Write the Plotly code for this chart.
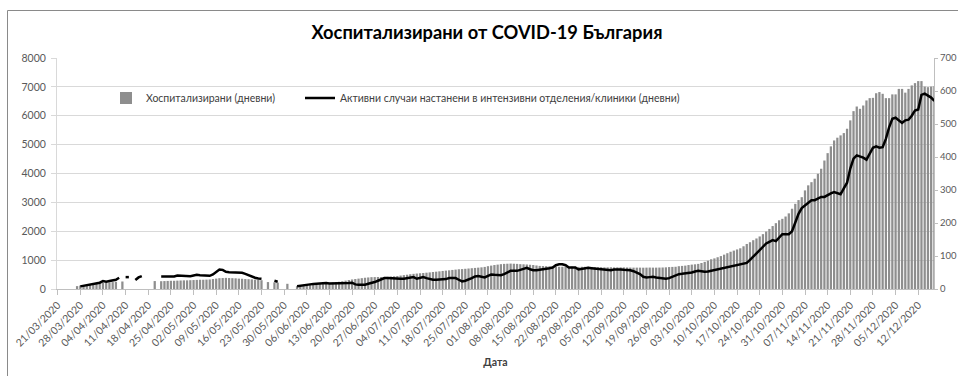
import pandas as pd
import plotly.graph_objects as go

START = "2020-03-21"

# Hospitalized (daily) – left axis; one list per month (March list starts on 21/03)
hosp_mar = [None]*6 + [100, 120, 135, 150, 160]
hosp_apr = [175, 185, 200, 215, 225, 230, 240, 250, None, 260] + [None]*9 + [275, None,
            270, 275, 280, 285, 285, 290, 295, 300, 300]
hosp_may = [305, 310, 315, 320, 320, 325, 330, 345, 360, 375, 380, 385, 380, 375, 370, 360,
            355, 345, 340, 335, 325, 315, 305, None, 240, None, 230, 220, None, None, 180]
hosp_jun = [None, None, 100, 110, 120, 135, 150, 165, 180, 195, 210, 215, 220, 230, 240, 250,
            270, 290, 310, 330, 345, 360, 375, 390, 400, 410, 412, 415, 415, 418]
hosp_jul = [420, 430, 440, 450, 465, 480, 495, 510, 525, 535, 545, 555, 565, 575, 588, 600,
            612, 625, 637, 647, 660, 672, 684, 690, 700, 710, 720, 730, 740, 750, 765]
hosp_aug = [790, 810, 830, 845, 860, 870, 875, 880, 875, 870, 860, 855, 850, 840, 830, 815,
            800, 795, 790, 785, 780, 775, 770, 770, 765, 770, 775, 770, 765, 770, 770]
hosp_sep = [768, 765, 760, 755, 755, 750, 750, 752, 748, 750, 750, 748, 745, 742, 740, 740,
            740, 738, 740, 742, 740, 740, 742, 745, 750, 760, 765, 770, 790, 800]
hosp_oct = [810, 830, 845, 855, 870, 900, 940, 980, 1030, 1060, 1100, 1140, 1190, 1240, 1290,
            1330, 1370, 1410, 1480, 1560, 1620, 1690, 1750, 1820, 1900, 1990, 2080, 2180,
            2280, 2380, 2430]
hosp_nov = [2510, 2620, 2780, 2950, 3080, 3180, 3415, 3590, 3700, 3820, 3990, 4165, 4450,
            4705, 4940, 5145, 5240, 5320, 5400, 5550, 5840, 6160, 6320, 6240, 6355, 6530,
            6610, 6620, 6780, 6820]
hosp_dec = [6760, 6610, 6610, 6740, 6740, 6930, 6930, 6800, 6930, 7050, 7130, 7200, 7200,
            7010, 6990, 7010, 7020]

# Active cases in ICU (daily) – right axis
icu_mar = [None]*7 + [8, 10, 12, 13]
icu_apr = [15, 16, 19, 24, 22, 24, 25, 28, 34, None, 36, 36, None, 27, 35, 39] + [None]*5 + \
          [38, 38, 39, 40, 38, 41, 40, 39, 40]
icu_may = [39, 41, 43, 42, 41, 40, 40, 44, 52, 59, 58, 52, 51, 51, 51, 51, 49, 46, 42, 37,
           34, 32, 31, None, None, None, 25, 22, None, None, None]
icu_jun = [None, None, 8, 10, 12, 13, 14, 15, 16, 17, 18, 18, 17, 17, 16, 16, 17, 18, 18, 19,
           14, 13, 13, 13, 16, 18, 21, 25, 29, 33]
icu_jul = [33, 32, 31, 31, 31, 31, 32, 34, 36, 31, 34, 36, 33, 30, 28, 28, 28, 28, 30, 33,
           33, 33, 28, 23, 25, 28, 33, 38, 39, 37, 35]
icu_aug = [40, 44, 43, 42, 42, 45, 50, 55, 55, 55, 58, 62, 64, 60, 57, 57, 58, 60, 61, 63,
           65, 72, 75, 75, 72, 65, 65, 65, 59, 61, 63]
icu_sep = [64, 63, 62, 61, 60, 58, 57, 57, 59, 60, 59, 58, 58, 57, 54, 50, 45, 37, 35, 36,
           37, 35, 33, 31, 31, 33, 37, 42, 45, 46]
icu_oct = [47, 48, 50, 53, 55, 54, 52, 53, 55, 57, 60, 62, 64, 65, 68, 71, 73, 74, 75, 79,
           88, 98, 107, 118, 128, 138, 143, 148, 145, 155, 166]
icu_nov = [166, 166, 175, 200, 228, 245, 254, 262, 269, 269, 275, 279, 279, 285, 290, 294,
           290, 287, 305, 322, 365, 395, 405, 402, 398, 392, 408, 428, 432, 428]
icu_dec = [430, 455, 490, 516, 519, 512, 503, 511, 513, 525, 541, 544, 588, 592, 585, 580, 570]

hosp = hosp_mar + hosp_apr + hosp_may + hosp_jun + hosp_jul + hosp_aug + hosp_sep + \
       hosp_oct + hosp_nov + hosp_dec
icu = icu_mar + icu_apr + icu_may + icu_jun + icu_jul + icu_aug + icu_sep + icu_oct + \
      icu_nov + icu_dec
dates = pd.date_range(START, periods=len(hosp), freq="D")

label_bars = "Хоспитализирани (дневни)"
label_line = "Активни случаи настанени в интензивни отделения/клиники (дневни)"
title_text = "Хоспитализирани от COVID-19 България"
x_title = "Дата"

FONT = "Lato"
TXT = "#595959"
PL, PR = 57, 934          # plot area left / right in pixels
PW = PR - PL

fig = go.Figure()
fig.add_trace(go.Bar(x=dates, y=hosp, name=label_bars, marker_color="#8e8e8e",
                     marker_line_width=0, legend="legend"))
fig.add_trace(go.Scatter(x=dates, y=icu, name=label_line, yaxis="y2", mode="lines",
                         line=dict(color="#000000", width=2.5), connectgaps=False,
                         legend="legend2"))

x0 = pd.Timestamp(START) - pd.Timedelta(hours=5)
x1 = pd.Timestamp(START) + pd.Timedelta(hours=int(270.9 * 24))

leg_common = dict(orientation="h", xanchor="left", y=(289-98)/231, yanchor="middle",
                  bgcolor="rgba(0,0,0,0)",
                  font=dict(family=FONT, size=10.5, color="#404040"))

fig.update_layout(
    width=958, height=376,
    margin=dict(l=PL, r=958-PR, t=58, b=87),
    paper_bgcolor="white", plot_bgcolor="white",
    font=dict(family=FONT, size=10.5, color=TXT),
    bargap=0.3,
    showlegend=True,
    title=dict(text="<b>" + title_text + "</b>", x=487/958, xanchor="center",
               y=1 - 33/376, yanchor="middle",
               font=dict(family=FONT, size=18.3, color="#000000")),
    legend=dict(x=(106-PL)/PW, **leg_common),
    legend2=dict(x=(300-PL)/PW, **leg_common),
    xaxis=dict(type="date", range=[x0, x1], tick0=START, dtick=7*86400000,
               tickformat="%d/%m/%Y", tickangle=-45, ticks="outside", ticklen=5,
               tickcolor="#bfbfbf", showline=True, linecolor="#bfbfbf", linewidth=1,
               showgrid=False, zeroline=False, automargin=False,
               tickfont=dict(family=FONT, size=10.5, color=TXT),
               title=dict(text="<b>" + x_title + "</b>", standoff=11,
                          font=dict(family=FONT, size=10.5, color="#404040"))),
    yaxis=dict(range=[0, 8000], dtick=1000, showgrid=True, gridcolor="#d9d9d9",
               gridwidth=1, zeroline=False, showline=True, linecolor="#d9d9d9",
               ticks="outside", ticklen=5, tickcolor="#d9d9d9", automargin=False,
               ticklabelstandoff=3,
               tickfont=dict(family=FONT, size=10.5, color=TXT)),
    yaxis2=dict(range=[0, 700], dtick=100, overlaying="y", side="right",
                showgrid=False, zeroline=False, showline=True, linecolor="#bfbfbf",
                ticks="outside", ticklen=3, tickcolor="#bfbfbf", automargin=False,
                tickfont=dict(family=FONT, size=9.5, color=TXT)),
    shapes=[dict(type="rect", xref="paper", yref="paper",
                 x0=(7.5-PL)/PW, x1=1.2, y0=-0.8, y1=(289-10.5)/231,
                 line=dict(color="#8a8a8a", width=1), fillcolor="rgba(0,0,0,0)",
                 layer="below")],
)

fig.write_html("out.html")
